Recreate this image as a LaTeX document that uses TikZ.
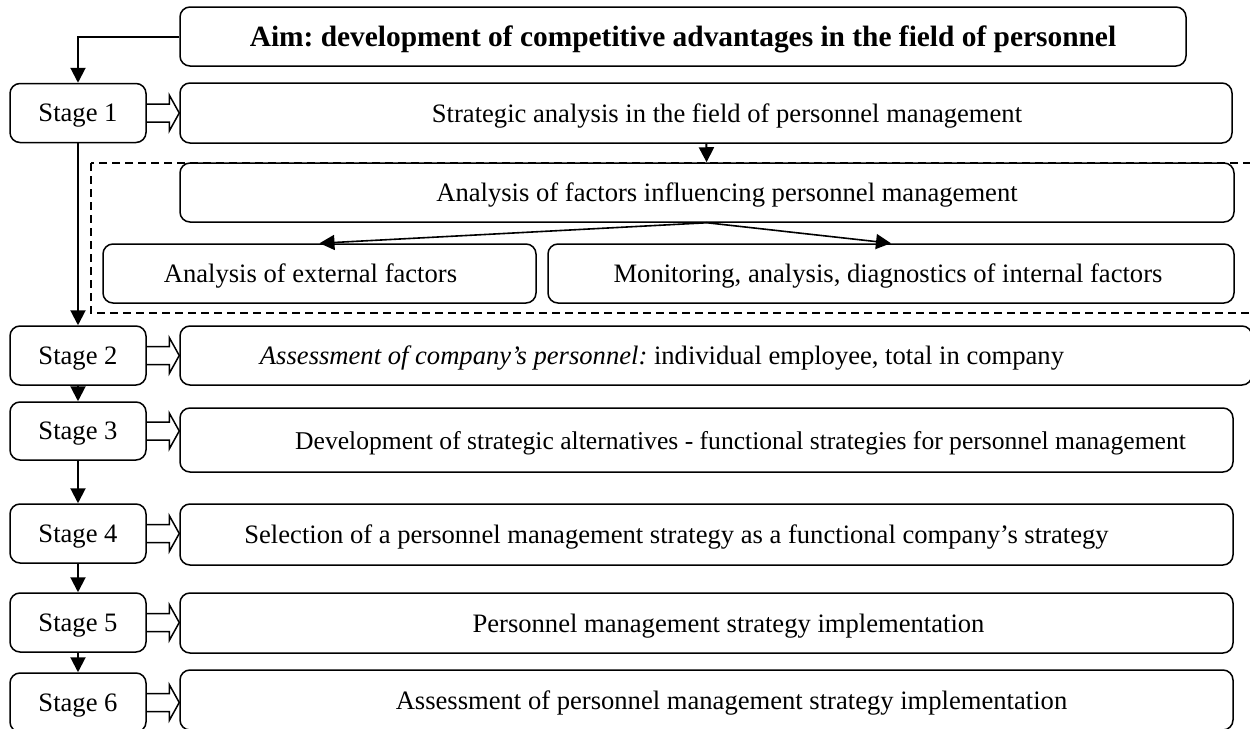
\documentclass[tikz,border=0pt]{standalone}
\usepackage{fontspec}
\setmainfont{Liberation Serif}
\usepackage{tikz}
\usetikzlibrary{arrows.meta,calc,positioning}
\frenchspacing

% hollow block arrow from a stage box to its task box
\newcommand{\hollowarrow}[2]{%
  \draw[hollow] ($(#1.east)+(0,-9)$) -- ($(#1.east -| #2.west)+(-10,-9)$)
    -- ++(0,-9) -- (#1.east -| #2.west) -- ++(-10,18) -- ++(0,-9)
    -- ($(#1.east)+(0,9)$);}

\begin{document}
\begin{tikzpicture}[x=0.5pt,y=-0.5pt,font=\fontsize{13.3}{16}\selectfont,
  every node/.append style={text depth=0pt},
  box/.style={draw,rounded corners=5pt,line width=0.75pt,inner sep=0pt},
  stagebox/.style={box,minimum width=68pt,minimum height=29.5pt},
  taskbox/.style={box,minimum height=30pt},
  flow/.style={-{Triangle[length=7.5pt,width=7.5pt]},line width=1pt},
  hollow/.style={line width=0.75pt,line join=miter}]
  \useasboundingbox (0,0) rectangle (1250,729);
  \clip (0,0) rectangle (1250,729);

  \node[box,minimum width=503pt,minimum height=29.5pt,font=\fontsize{14.7}{17}\selectfont\bfseries] (aim) at (683,36.5)
    {Aim: development of competitive advantages in the field of personnel};

  % stages
  \node[stagebox] (s1) at (78,113) {Stage 1};
  \node[stagebox] (s2) at (78,355.5) {Stage 2};
  \node[stagebox,minimum height=29pt] (s3) at (78,431) {Stage 3};
  \node[stagebox] (s4) at (78,533.5) {Stage 4};
  \node[stagebox] (s5) at (78,622.5) {Stage 5};
  \node[stagebox] (s6) at (78,702.5) {Stage 6};

  % dashed frame round the factor analysis
  \draw[dashed,line width=0.6pt,dash pattern=on 4pt off 2.5pt] (91,163) rectangle (1262,313);

  % tasks
  \node[taskbox,minimum width=526pt,label={[xshift=10.5pt]center:Strategic analysis in the field of personnel management}] (b1) at (706,113) {};
  \node[taskbox,minimum width=527pt,minimum height=29.5pt,label={[xshift=10pt]center:Analysis of factors influencing personnel management}] (fac) at (707,192.5) {};
  \node[taskbox,minimum width=216.5pt,minimum height=29.5pt,label={[xshift=-4.5pt]center:Analysis of external factors}] (ext) at (319.5,273.5) {};
  \node[taskbox,minimum width=343pt,minimum height=29.5pt,label={[xshift=-1.5pt]center:Monitoring, analysis, diagnostics of internal factors}] (int) at (891,273.5) {};
  \node[taskbox,minimum width=536pt,minimum height=29.5pt,label={[xshift=-27pt]center:\textit{Assessment of company’s personnel:} individual employee, total in company}] (b2) at (716,355.5) {};
  \node[taskbox,minimum width=526.5pt,minimum height=32pt,label={[xshift=17pt,font=\fontsize{12.8}{15}\selectfont]center:Development of strategic alternatives - functional strategies for personnel management}] (b3) at (706.5,440) {};
  \node[taskbox,minimum width=526.5pt,minimum height=30.5pt,label={[xshift=-15pt]center:Selection of a personnel management strategy as a functional company’s strategy}] (b4) at (706.5,534.5) {};
  \node[taskbox,minimum width=526.5pt,label={[xshift=11pt]center:Personnel management strategy implementation}] (b5) at (706.5,623) {};
  \node[taskbox,minimum width=526.5pt,label={[xshift=12.5pt]center:Assessment of personnel management strategy implementation}] (b6) at (706.5,700) {};

  % sequence of stages
  \draw[flow] (aim.west) -| (s1.north);
  \draw[flow] (s1) -- (s2);
  \draw[flow] (s2) -- (s3);
  \draw[flow] (s3) -- (s4);
  \draw[flow] (s4) -- (s5);
  \draw[flow] (s5) -- (s6);
  \draw[flow] (b1) -- (fac);
  \draw[flow,line width=0.8pt] (fac.south) -- (ext.north);
  \draw[flow,line width=0.8pt] (fac.south) -- (int.north);

  \hollowarrow{s1}{b1}
  \hollowarrow{s2}{b2}
  \hollowarrow{s3}{b3}
  \hollowarrow{s4}{b4}
  \hollowarrow{s5}{b5}
  \hollowarrow{s6}{b6}
\end{tikzpicture}
\end{document}
